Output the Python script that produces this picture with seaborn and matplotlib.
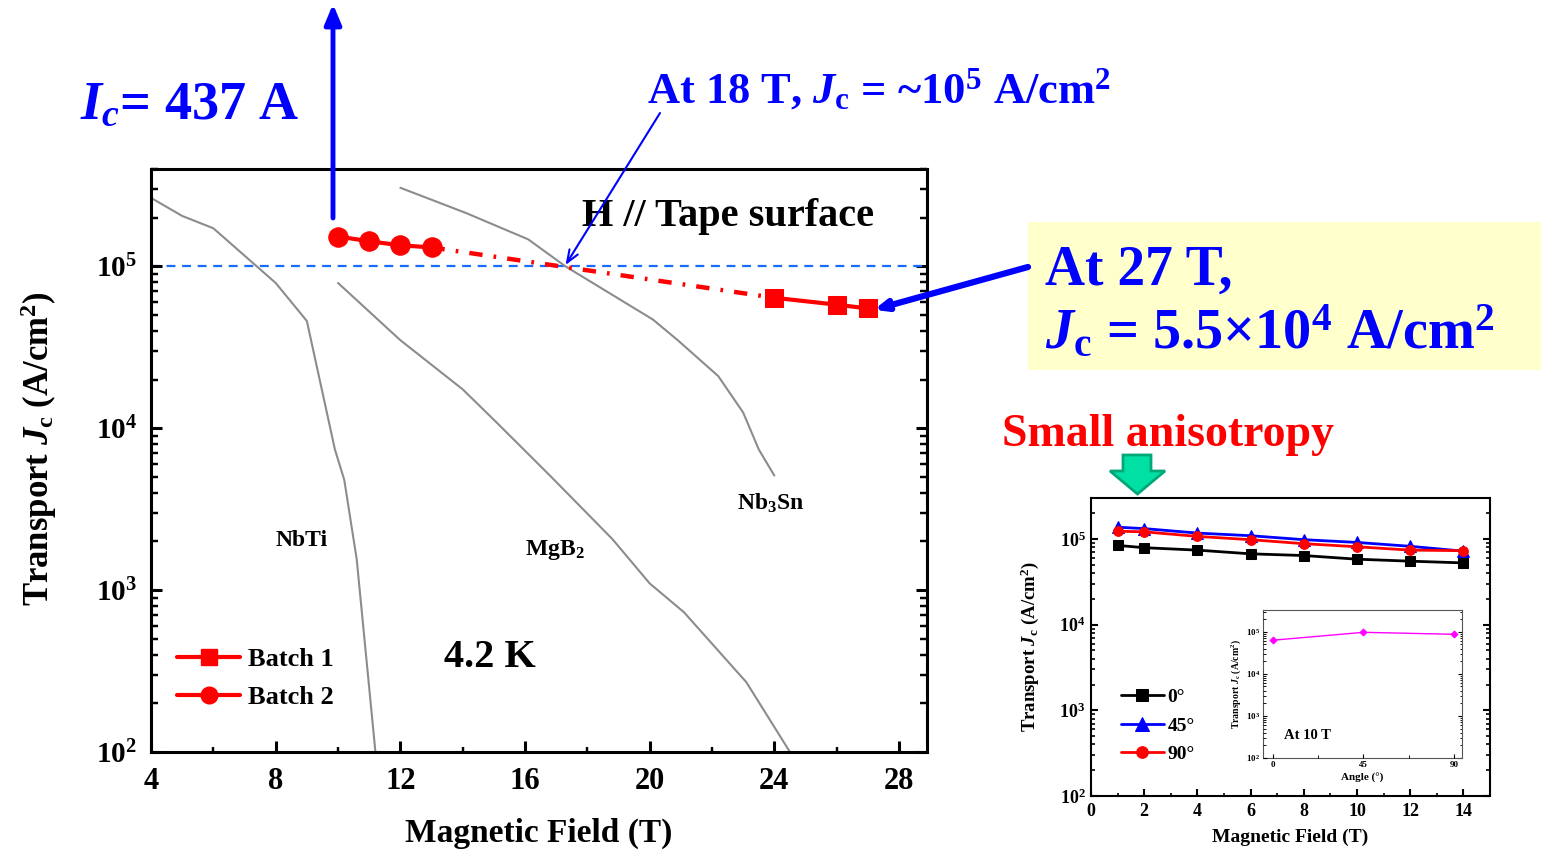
import matplotlib
matplotlib.use("Agg")
import matplotlib.pyplot as plt
import seaborn as sns
from matplotlib.patches import Rectangle, Polygon, FancyArrowPatch
from matplotlib.lines import Line2D
from matplotlib.ticker import MultipleLocator, NullFormatter, LogLocator

# ---- main panel: transport Jc at 4.2 K, H // tape surface ----
batch1_field = [24, 26, 27]
batch1_jc = [6.4e4, 5.8e4, 5.5e4]
batch2_field = [10, 11, 12, 13]
batch2_jc = [1.53e5, 1.43e5, 1.35e5, 1.31e5]
gap_field = [13, 24]              # dash-dot guide between the batches
gap_jc = [1.31e5, 6.4e4]

nbti_field = [4, 5, 6, 8, 9, 9.9, 10.2, 10.6, 11.2]
nbti_jc = [2.65e5, 2.05e5, 1.72e5, 7.9e4, 4.6e4, 7.4e3, 4.8e3, 1.55e3, 100]
mgb2_field = [10, 12, 14, 15.1, 16.8, 18.8, 20, 21.1, 23.1, 24.5]
mgb2_jc = [7.9e4, 3.5e4, 1.74e4, 1.08e4, 5.1e3, 2.07e3, 1.1e3, 7.3e2, 2.7e2, 100]
nb3sn_field = [12, 14.1, 16.1, 17.3, 20.1, 20.9, 22.2, 23.0, 23.5, 24.0]
nb3sn_jc = [3.06e5, 2.14e5, 1.47e5, 1.0e5, 4.7e4, 3.5e4, 2.1e4, 1.25e4, 7.4e3, 5.1e3]

main_xticks = [4, 8, 12, 16, 20, 24, 28]
main_xminor = [6, 10, 14, 18, 22, 26]
log_ticks = [1e2, 1e3, 1e4, 1e5]
log_labels = ["$10^{2}$", "$10^{3}$", "$10^{4}$", "$10^{5}$"]
log_minor = [m * d for d in [1e2, 1e3, 1e4, 1e5] for m in range(2, 10)]

# ---- small panel: field dependence at three angles ----
field_small = [1, 2, 4, 6, 8, 10, 12, 14]
jc_0deg = [8.4e4, 7.9e4, 7.4e4, 6.7e4, 6.4e4, 5.8e4, 5.5e4, 5.25e4]
jc_45deg = [1.37e5, 1.32e5, 1.17e5, 1.09e5, 9.8e4, 9.1e4, 8.2e4, 7.2e4]
jc_90deg = [1.23e5, 1.21e5, 1.07e5, 9.8e4, 8.8e4, 8.1e4, 7.4e4, 7.3e4]
small_xticks = [0, 2, 4, 6, 8, 10, 12, 14]
small_xminor = [1, 3, 5, 7, 9, 11, 13]

# ---- tiny inset: angle dependence at 10 T ----
angles = [0, 45, 90]
angle_minor = [22.5, 67.5]
jc_10T = [6.3e4, 9.7e4, 8.7e4]

sns.set_style("white")
plt.rcParams["font.family"] = ["Liberation Serif", "DejaVu Serif"]
plt.rcParams["font.weight"] = "bold"
plt.rcParams["mathtext.fontset"] = "custom"
plt.rcParams["mathtext.rm"] = "Liberation Serif:bold"
plt.rcParams["mathtext.it"] = "Liberation Serif:italic:bold"
plt.rcParams["mathtext.bf"] = "Liberation Serif:bold"
for k in ["text.color", "axes.labelcolor", "xtick.color", "ytick.color"]:
    plt.rcParams[k] = "black"
plt.rcParams["xtick.direction"] = "in"
plt.rcParams["ytick.direction"] = "in"

BLUE = "#0000ff"
RED = "#ff0000"
GRAY = "#8c8c8c"

fig = plt.figure(figsize=(15.41, 8.55), dpi=100)
W, H = 1541, 855


def px(x, y):
    # figure pixel (from top-left) -> figure fraction
    return x / W, (H - y) / H


def log_axes(ax, lw, maj, mino, labsize, pad):
    ax.set_yscale("log")
    ax.yaxis.set_minor_locator(LogLocator(subs=range(2, 10)))
    ax.yaxis.set_minor_formatter(NullFormatter())
    for s in ax.spines.values():
        s.set_linewidth(lw)
        s.set_color("black")
    # right-hand ticks come from matplotlib, left/bottom ones are drawn in inner_ticks
    ax.tick_params(which="both", direction="in", left=False, bottom=False, right=True,
                   top=False, labelleft=True, labelbottom=True, labelsize=labsize, pad=pad)
    ax.tick_params(which="major", length=maj, width=lw)
    ax.tick_params(which="minor", length=mino, width=lw * 0.8)


def inner_ticks(ax, ymaj, ymin, xmaj, xmin, lw, maj_px, min_px, xmin_px):
    # short segments along the left and bottom spines, lengths in pixels
    xlo, xhi = ax.get_xlim()
    ylo, yhi = ax.get_ylim()
    pos = ax.get_position()
    wpx, hpx = pos.width * W, pos.height * H
    ymin = [v for v in ymin if ylo <= v <= yhi]
    yt = ax.get_yaxis_transform()
    xt = ax.get_xaxis_transform()
    kw = dict(colors="black", clip_on=False, zorder=6)
    ax.hlines(ymaj, 0, maj_px / wpx, transform=yt, lw=lw, **kw)
    ax.hlines(ymin, 0, min_px / wpx, transform=yt, lw=lw * 0.8, **kw)
    ax.vlines(xmaj, 0, maj_px / hpx, transform=xt, lw=lw, **kw)
    ax.vlines(xmin, 0, xmin_px / hpx, transform=xt, lw=lw * 0.8, **kw)
    ax.set_xlim(xlo, xhi)
    ax.set_ylim(ylo, yhi)


# yellow note box behind everything
fig.add_artist(Rectangle(px(1028, 370), 513 / W, 148 / H, transform=fig.transFigure,
                         facecolor="#ffffcc", edgecolor="none", zorder=0))

# ================= main axes =================
ax = fig.add_axes([0.098, 0.1205, 0.5036, 0.6819])
log_axes(ax, 2.2, 8, 5, 21, 10)
ax.set_xlim(4, 28.9)
ax.set_ylim(100, 4e5)
ax.set_xticks(main_xticks)
ax.xaxis.set_minor_locator(MultipleLocator(2))
ax.set_yticks(log_ticks, labels=log_labels)
ax.tick_params(axis="x", labelsize=22, pad=11)

ax.axhline(1e5, color="#1a6cff", lw=1.6, ls=(0, (4, 3)), zorder=1)
for fx, fy in [(nbti_field, nbti_jc), (mgb2_field, mgb2_jc), (nb3sn_field, nb3sn_jc)]:
    sns.lineplot(x=fx, y=fy, ax=ax, color=GRAY, lw=1.5, estimator=None, sort=False, zorder=2)

sns.lineplot(x=gap_field, y=gap_jc, ax=ax, color=RED, lw=3.2, ls=(0, (3, 2.5, 0.6, 2.5)),
             estimator=None, sort=False, zorder=3)
sns.lineplot(x=batch1_field, y=batch1_jc, ax=ax, color=RED, lw=3, marker="s", markersize=13,
             markeredgecolor=RED, estimator=None, sort=False, zorder=4)
sns.lineplot(x=batch2_field, y=batch2_jc, ax=ax, color=RED, lw=3, marker="o", markersize=14,
             markeredgecolor=RED, estimator=None, sort=False, zorder=4)

ax.text(22.5, 1.77e5, "H // Tape surface", ha="center", va="baseline", fontsize=29)
ax.text(8.84, 1.87e3, "NbTi", ha="center", va="baseline", fontsize=17)
ax.text(16.0, 1.65e3, "MgB$_2$", ha="left", va="baseline", fontsize=17)
ax.text(22.8, 3.16e3, "Nb$_3$Sn", ha="left", va="baseline", fontsize=17)
ax.text(13.4, 335, "4.2 K", ha="left", va="baseline", fontsize=29)

ax.set_xlabel("Magnetic Field (T)", fontsize=24, fontweight="bold")
ax.set_ylabel("Transport $J_{\\rm c}$ (A/cm$^2$)", fontsize=25, fontweight="bold")
ax.xaxis.set_label_coords(0.5, -0.112)
ax.yaxis.set_label_coords(-0.118, 0.52)

handles = [Line2D([], [], color=RED, lw=3, marker="s", markersize=12),
           Line2D([], [], color=RED, lw=3, marker="o", markersize=12)]
ax.legend(handles, ["Batch 1", "Batch 2"], loc="lower left", bbox_to_anchor=(0.02, 0.056),
          frameon=False, fontsize=19, handlelength=2.4, handletextpad=0.3,
          labelspacing=0.55, borderaxespad=0)
inner_ticks(ax, log_ticks, log_minor, main_xticks, main_xminor, 2.2, 11, 7, 4.5)

# ================= arrows and callouts =================
fig.add_artist(FancyArrowPatch(
    px(333, 218), px(333, 4), transform=fig.transFigure,
    arrowstyle="-|>,head_length=12,head_width=5", color=BLUE, lw=3.5,
    shrinkA=0, shrinkB=0))
ax.annotate("", xy=(17.3, 1.02e5), xycoords="data", xytext=px(660, 113),
            textcoords="figure fraction", annotation_clip=False,
            arrowprops=dict(arrowstyle="->,head_length=0.9,head_width=0.35", color=BLUE,
                            lw=1.5, shrinkA=0, shrinkB=0))
ax.annotate("", xy=(27.2, 5.4e4), xycoords="data", xytext=px(1028, 267),
            textcoords="figure fraction", annotation_clip=False,
            arrowprops=dict(arrowstyle="->,head_length=0.7,head_width=0.3", color=BLUE,
                            lw=4.5, shrinkA=0, shrinkB=0))

fig.text(*px(80, 118), "$I_c$= 437 A", color=BLUE, fontsize=39, va="baseline")
fig.text(*px(647, 103), "At 18 T, $J_{\\rm c}$ = ~10$^{5}$ A/cm$^{2}$", color=BLUE,
         fontsize=32, va="baseline")
fig.text(*px(1045, 285), "At 27 T,", color=BLUE, fontsize=40, va="baseline", zorder=2)
fig.text(*px(1045, 348), "$J_{\\rm c}$ = 5.5×10$^{4}$ A/cm$^{2}$", color=BLUE,
         fontsize=40.5, va="baseline", zorder=2)
fig.text(*px(1002, 446), "Small anisotropy", color=RED, fontsize=33, va="baseline")

green = [(1123, 455), (1151, 455), (1151, 471), (1165, 471), (1137.5, 494),
         (1110, 471), (1123, 471)]
fig.add_artist(Polygon([px(a, b) for a, b in green], closed=True, transform=fig.transFigure,
                       facecolor="#00e0a4", edgecolor="#00a878", lw=2))

# ================= small panel =================
ax2 = fig.add_axes([0.708, 0.069, 0.2589, 0.3485])
log_axes(ax2, 1.5, 5, 3, 13, 4)
ax2.set_xlim(0, 15)
ax2.set_ylim(100, 3e5)
ax2.set_xticks(small_xticks)
ax2.xaxis.set_minor_locator(MultipleLocator(1))
ax2.set_yticks(log_ticks, labels=log_labels)
ax2.tick_params(axis="x", labelsize=13, pad=5)

sns.lineplot(x=field_small, y=jc_0deg, ax=ax2, color="black", lw=2, marker="s", markersize=7,
             markeredgecolor="black", estimator=None, label="0°")
sns.lineplot(x=field_small, y=jc_45deg, ax=ax2, color=BLUE, lw=2, marker="^", markersize=8,
             markeredgecolor=BLUE, estimator=None, label="45°")
sns.lineplot(x=field_small, y=jc_90deg, ax=ax2, color=RED, lw=2, marker="o", markersize=7,
             markeredgecolor=RED, estimator=None, label="90°")
ax2.legend(loc="lower left", bbox_to_anchor=(0.055, 0.085), frameon=False, fontsize=14,
           handlelength=2.2, handletextpad=0.2, labelspacing=0.55, borderaxespad=0,
           markerscale=1.2)

ax2.set_xlabel("Magnetic Field (T)", fontsize=14, fontweight="bold")
ax2.set_ylabel("Transport $J_{\\rm c}$ (A/cm$^2$)", fontsize=13.5, fontweight="bold")
ax2.xaxis.set_label_coords(0.5, -0.11)
ax2.yaxis.set_label_coords(-0.125, 0.5)
inner_ticks(ax2, log_ticks, log_minor, small_xticks, small_xminor, 1.5, 7, 4, 3.5)

# ================= tiny inset: angle dependence =================
ax3 = fig.add_axes([0.8196, 0.1135, 0.1291, 0.1731])
log_axes(ax3, 0.8, 3, 1.8, 6.5, 2)
for s in ax3.spines.values():
    s.set_color("#555555")
ax3.set_xlim(-5, 94)
ax3.set_ylim(100, 3.3e5)
ax3.set_xticks(angles)
ax3.xaxis.set_minor_locator(MultipleLocator(22.5))
ax3.set_yticks(log_ticks, labels=log_labels)
sns.lineplot(x=angles, y=jc_10T, ax=ax3, color="#ff00ff", lw=1, marker="D", markersize=3.5,
             markeredgecolor="#ff00ff", estimator=None)
ax3.text(5.4, 287, "At 10 T", fontsize=10.5, va="baseline")
ax3.set_xlabel("Angle (°)", fontsize=8, fontweight="bold")
ax3.set_ylabel("Transport $J_{\\rm c}$ (A/cm$^2$)", fontsize=7, fontweight="bold")
ax3.xaxis.set_label_coords(0.5, -0.1)
ax3.yaxis.set_label_coords(-0.1, 0.5)
inner_ticks(ax3, log_ticks, log_minor, angles, angle_minor, 0.8, 4, 2.5, 2.5)

fig.savefig("out.png", dpi=100)
